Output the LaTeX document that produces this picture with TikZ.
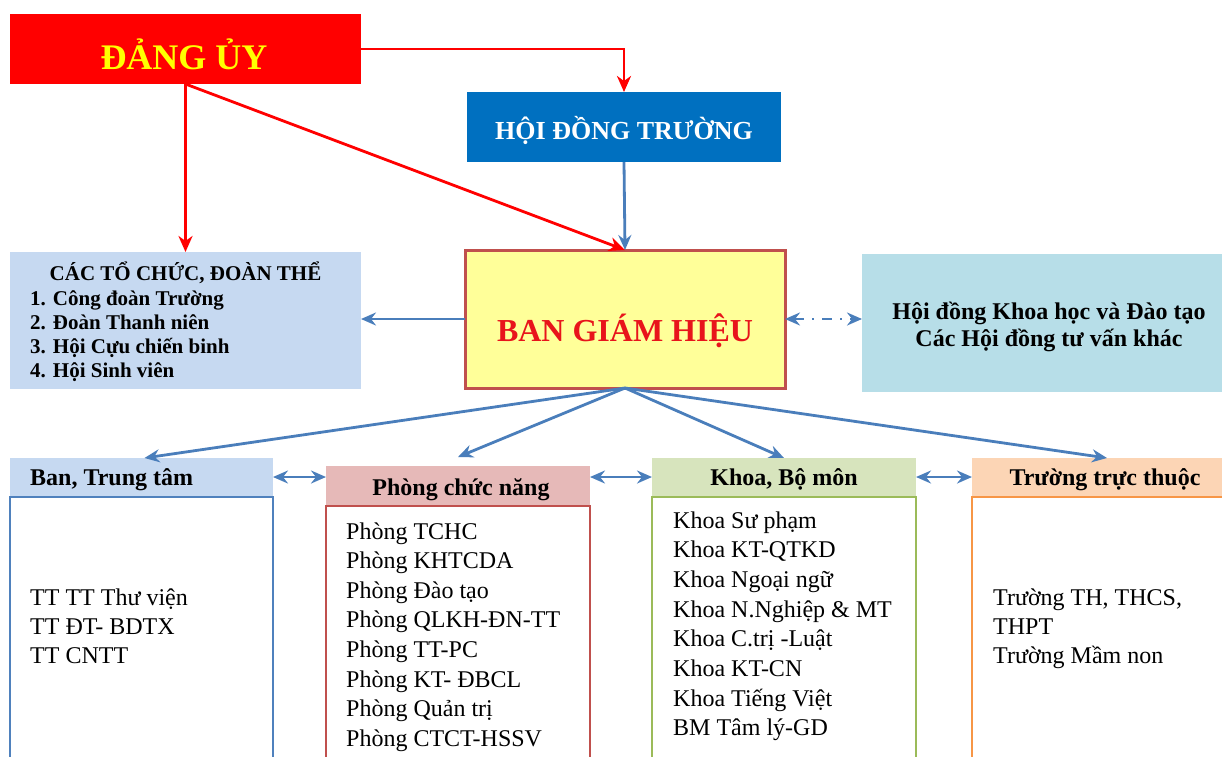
\documentclass[tikz,border=0pt]{standalone}
\usepackage{fontspec}
\setmainfont{Liberation Serif}
\usetikzlibrary{arrows.meta}
\definecolor{dangred}{HTML}{FF0000}
\definecolor{dangtext}{HTML}{FFFF00}
\definecolor{hdtblue}{HTML}{0070C0}
\definecolor{ctcblue}{HTML}{C6D9F1}
\definecolor{bghyellow}{HTML}{FFFF99}
\definecolor{bghborder}{HTML}{C0504D}
\definecolor{bghtext}{HTML}{E8141B}
\definecolor{hdkhfill}{HTML}{B7DEE8}
\definecolor{arrblue}{HTML}{4A7EBB}
\definecolor{pinkhead}{HTML}{E6B9B8}
\definecolor{greenhead}{HTML}{D7E4BD}
\definecolor{orangehead}{HTML}{FCD5B5}
\definecolor{blueborder}{HTML}{4F81BD}
\definecolor{redborder}{HTML}{C0504D}
\definecolor{greenborder}{HTML}{9BBB59}
\definecolor{orangeborder}{HTML}{F79646}
\begin{document}
\begin{tikzpicture}[x=1pt,y=-1pt,
  box/.style={inner sep=0pt, outer sep=0pt, anchor=north west},
  lbl/.style={inner sep=0pt, anchor=base},
  item/.style={inner sep=0pt, anchor=base west, font=\fontsize{24}{29}\selectfont},
  bitem/.style={inner sep=0pt, anchor=base west, font=\fontsize{21}{25}\selectfont\bfseries},
  head/.style={inner sep=0pt, anchor=base, font=\fontsize{24}{29}\selectfont\bfseries},
  redarr/.style={draw=dangred, line width=2.8pt, -{Stealth[length=16pt,width=14pt,inset=5pt]}},
  bluearr/.style={draw=arrblue, line width=2.8pt, -{Stealth[length=15pt,width=13pt,inset=5pt]}},
  dblarr/.style={draw=arrblue, line width=2.8pt, {Stealth[length=15pt,width=13pt,inset=5pt]}-{Stealth[length=15pt,width=13pt,inset=5pt]}},
]
\clip (0,0) rectangle (1222,756);
\fill[white] (0,0) rectangle (1222,756);

% top boxes
\node[box, fill=dangred, minimum width=351pt, minimum height=70pt] (dang) at (10,14) {};
\node[lbl, font=\fontsize{36}{40}\selectfont\bfseries, text=dangtext] (dangt) at (184,69) {ĐẢNG ỦY};

\node[box, fill=hdtblue, minimum width=314pt, minimum height=70pt] (hdt) at (467,92) {};
\node[lbl, font=\fontsize{26}{30}\selectfont\bfseries, text=white] (hdtt) at (624,139) {HỘI ĐỒNG TRƯỜNG};

\node[box, fill=ctcblue, minimum width=351pt, minimum height=137pt] (ctc) at (10,252) {};
\node[lbl, font=\fontsize{21}{25}\selectfont\bfseries] (ctct) at (185.5,280) {CÁC TỔ CHỨC, ĐOÀN THỂ};
\node[bitem] (c1) at (30,305) {1. Công đoàn Trường};
\node[bitem] (c2) at (30,329) {2. Đoàn Thanh niên};
\node[bitem] (c3) at (30,353) {3. Hội Cựu chiến binh};
\node[bitem] (c4) at (30,377) {4. Hội Sinh viên};

\node[box, fill=bghyellow, draw=bghborder, line width=3pt, minimum width=320pt, minimum height=138pt] (bgh) at (465,250) {};
\node[lbl, font=\fontsize{32}{36}\selectfont\bfseries, text=bghtext] (bght) at (625,341) {BAN GIÁM HIỆU};

\node[box, fill=hdkhfill, minimum width=362pt, minimum height=138pt] (hdkh) at (862,254) {};
\node[head] (hk1) at (1049,319) {Hội đồng Khoa học và Đào tạo};
\node[head] (hk2) at (1049,346) {Các Hội đồng tư vấn khác};

% bottom headers and bodies
\node[box, fill=ctcblue, minimum width=263pt, minimum height=38pt] (banh) at (10,458) {};
\node[box, draw=blueborder, line width=1.8pt, minimum width=263pt, minimum height=275pt] (banb) at (10,497) {};
\node[inner sep=0pt, anchor=base west, font=\fontsize{24}{29}\selectfont\bfseries] (banht) at (30,485) {Ban, Trung tâm};

\node[box, fill=pinkhead, minimum width=264pt, minimum height=39pt] (phh) at (326,466) {};
\node[box, draw=redborder, line width=1.8pt, minimum width=264pt, minimum height=265pt] (phb) at (326,506) {};
\node[head] (phht) at (461,495) {Phòng chức năng};

\node[box, fill=greenhead, minimum width=264pt, minimum height=38pt] (kh) at (652,458) {};
\node[box, draw=greenborder, line width=1.8pt, minimum width=264pt, minimum height=275pt] (kb) at (652,497) {};
\node[head] (kht) at (784,485) {Khoa, Bộ môn};

\node[box, fill=orangehead, minimum width=260pt, minimum height=38pt] (th) at (972,458) {};
\node[box, draw=orangeborder, line width=1.8pt, minimum width=260pt, minimum height=275pt] (tb) at (972,497) {};
\node[head] (tht) at (1105,485) {Trường trực thuộc};

% body texts
\node[item] (b1) at (30,605) {TT TT Thư viện};
\node[item] (b2) at (30,634) {TT ĐT- BDTX};
\node[item] (b3) at (30,663) {TT CNTT};

\foreach \t [count=\i from 0] in {Phòng TCHC, Phòng KHTCDA, Phòng Đào tạo, Phòng QLKH-ĐN-TT, Phòng TT-PC, Phòng KT- ĐBCL, Phòng Quản trị, Phòng CTCT-HSSV}
  \node[item] (p\i) at (346,539+29.6*\i) {\t};

\foreach \t [count=\i from 0] in {Khoa Sư phạm, Khoa KT-QTKD, Khoa Ngoại ngữ, Khoa N.Nghiệp \& MT, Khoa C.trị -Luật, Khoa KT-CN, Khoa Tiếng Việt, BM Tâm lý-GD}
  \node[item] (k\i) at (673,528+29.7*\i) {\t};

\node[item] (t1) at (993,605) {Trường TH, THCS,};
\node[item] (t2) at (993,634) {THPT};
\node[item] (t3) at (993,663) {Trường Mầm non};

% red connectors
\draw[redarr] (dang.east) -| (hdt.north);
\draw[redarr] (dang.south) -- (dang.south |- ctc.north);
\draw[redarr] (dang.south) -- (bgh.north);

% blue connectors
\draw[bluearr] (hdt.south) -- (bgh.north);
\draw[bluearr] (bgh.west) -- (bgh.west -| ctc.east);
\draw[dblarr, dash pattern=on 10pt off 8pt on 2pt off 8pt] (bgh.east) -- (bgh.east -| hdkh.west);

\draw[bluearr] (bgh.south) -- ([xshift=3pt]banh.north);
\draw[bluearr] (bgh.south) -- ([yshift=9pt]phh.north);
\draw[bluearr] (bgh.south) -- (kh.north);
\draw[bluearr] (bgh.south) -- ([xshift=5pt]th.north);

\draw[dblarr] (banh.east) -- (banh.east -| phh.west);
\draw[dblarr] (kh.west -| phh.east) -- (kh.west);
\draw[dblarr] (kh.east) -- (kh.east -| th.west);
\end{tikzpicture}
\end{document}
